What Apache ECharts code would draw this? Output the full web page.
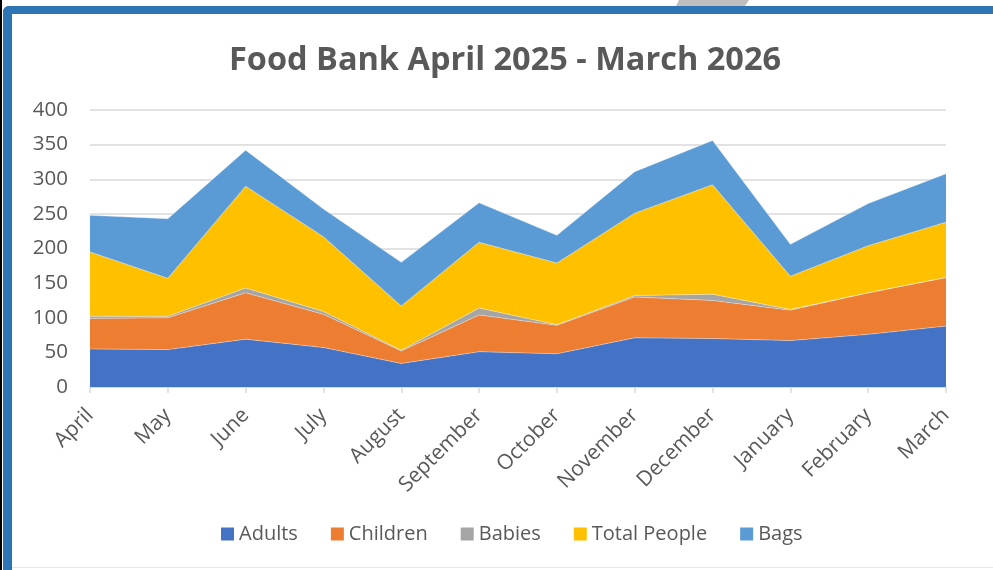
<!DOCTYPE html>
<html>
<head>
<meta charset="utf-8">
<script src="https://cdn.jsdelivr.net/npm/echarts@6/dist/echarts.min.js"></script>
<style>
html,body{margin:0;padding:0;background:#fff;}
#chart{width:993px;height:570px;}
</style>
</head>
<body>
<div id="chart"></div>
<script>
const months = ['April','May','June','July','August','September','October','November','December','January','February','March'];
const adults = [55, 54, 69, 57, 34, 51, 48, 71, 70, 67, 76, 88];
const children = [44, 46, 67, 48, 18, 53, 41, 59, 55, 44, 60, 70];
const babies = [3, 2, 7, 4, 1, 10, 1, 2, 9, 1, 0, 0];
const totalPeople = [93, 55, 147, 108, 64, 95, 89, 119, 158, 48, 68, 80];
const bags = [53, 86, 52, 40, 63, 57, 40, 60, 64, 46, 61, 70];
const yTicks = [0, 50, 100, 150, 200, 250, 300, 350, 400];

const seriesDefs = [
  {name:'Adults', data:adults, color:'#4472C4'},
  {name:'Children', data:children, color:'#ED7D31'},
  {name:'Babies', data:babies, color:'#A5A5A5'},
  {name:'Total People', data:totalPeople, color:'#FFC000'},
  {name:'Bags', data:bags, color:'#5B9BD5'}
];

const font = '"Open Sans", "Noto Sans", sans-serif';
const chart = echarts.init(document.getElementById('chart'));
chart.setOption({
  animation:false,
  backgroundColor:'#ffffff',
  title:{
    text:'Food Bank April 2025 - March 2026',
    left:500, top:39, textAlign:'center',
    textStyle:{fontFamily:font, fontSize:32.5, fontWeight:'bold', color:'#595959'}
  },
  legend:{
    bottom:21, left:216,
    itemWidth:13, itemHeight:13, itemGap:33,
    icon:'rect',
    textStyle:{fontFamily:font, fontSize:20, color:'#595959', padding:[0,0,0,0]},
    data:seriesDefs.map(s=>s.name)
  },
  grid:{left:90, right:47, top:110, bottom:183, containLabel:false},
  xAxis:{
    type:'category', boundaryGap:false, data:months,
    axisLine:{lineStyle:{color:'#D9D9D9', width:1.5}},
    axisTick:{show:true, alignWithLabel:true, length:6, lineStyle:{color:'#D9D9D9', width:1.5}},
    axisLabel:{rotate:45, fontFamily:font, fontSize:21, color:'#595959', margin:25, interval:0},
    splitLine:{show:false}
  },
  yAxis:{
    type:'value', min:yTicks[0], max:yTicks[yTicks.length-1], interval:50,
    axisLine:{show:false}, axisTick:{show:false},
    axisLabel:{fontFamily:font, fontSize:20.5, color:'#595959', margin:22},
    splitLine:{lineStyle:{color:'#D9D9D9', width:1.5}}
  },
  series:seriesDefs.map(s=>({
    name:s.name, type:'line', stack:'total', data:s.data,
    symbol:'none', showSymbol:false,
    lineStyle:{width:0.6, color:'rgba(255,255,255,0.6)'},
    areaStyle:{color:s.color, opacity:1},
    itemStyle:{color:s.color},
    emphasis:{disabled:true}
  })),
  graphic:[
    {type:'rect', shape:{x:0,y:0,width:2,height:570}, style:{fill:'#000'}, z:100},
    {type:'rect', shape:{x:3,y:6,width:990,height:8,r:[6,0,0,0]}, style:{fill:'#2E75B6'}, z:100},
    {type:'rect', shape:{x:3,y:6,width:9,height:564,r:[6,0,0,0]}, style:{fill:'#2E75B6'}, z:100},
    {type:'polygon', shape:{points:[[679,0],[749,0],[745,6],[676,6]]}, style:{fill:'#BFBFBF'}, z:100},
    {type:'rect', shape:{x:12,y:567,width:981,height:1}, style:{fill:'#E7E7E7'}, z:100}
  ]
});
</script>
</body>
</html>
